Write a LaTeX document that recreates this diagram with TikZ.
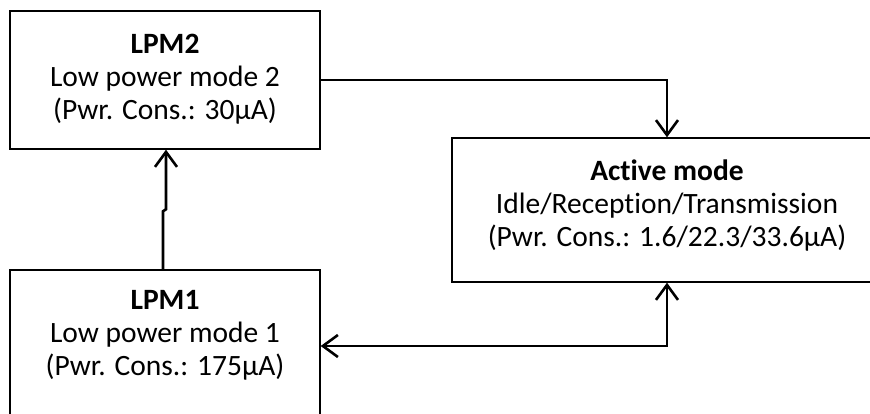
\documentclass[tikz,border=0pt]{standalone}
\usepackage{fontspec}
\setmainfont{Carlito}[Ligatures=NoCommon]
\usepackage{tikz}
\usetikzlibrary{arrows.meta}
\usetikzlibrary{calc}
\usetikzlibrary{positioning}

\begin{document}
\begin{tikzpicture}[x=1pt, y=-1pt, semithick]
 	  \tikzstyle{modebox}=[draw, rectangle, line width=1.4pt, inner sep=0pt]
 	  \tikzstyle{modetext}=[align=center, inner sep=0pt, font=\fontsize{29.5}{33}\selectfont]
 	  \tikzstyle{conn}=[line width=2.6pt, -{Straight Barb[length=15pt,width=22pt]}]
\useasboundingbox (0,0) rectangle (870,414);
\clip (0,0) rectangle (870,414);
    \node[modebox, minimum width=310, minimum height=138] (lpm2) at (165,80) {};
    \node[modebox, minimum width=430, minimum height=144] (act) at (667,210) {};
    \node[modebox, minimum width=310, minimum height=152] (lpm1) at (165,346) {};
    \node[modetext] (lpm2txt) at (165,79) {\textbf{LPM2}\\Low power mode 2\\(Pwr. Cons.: 30µA)};
    \node[modetext] (acttxt) at (667,206)
         {\textbf{Active mode}\\Idle/Reception/Transmission\\(Pwr. Cons.: 1.6/22.3/33.6µA)};
    \node[modetext] (lpm1txt) at (165,335) {\textbf{LPM1}\\Low power mode 1\\(Pwr. Cons.: 175µA)};
\draw[conn] (lpm2.east) -| (act.north);
\draw[conn] ([xshift=-2pt]lpm1.north) -- ++(0,-58) -- ++(3,-2) -- ([xshift=1pt]lpm2.south);
\draw[conn, {Straight Barb[length=15pt,width=22pt]}-{Straight Barb[length=15pt,width=22pt]}] (lpm1.east) -| (act.south);
   \end{tikzpicture}
\end{document}
